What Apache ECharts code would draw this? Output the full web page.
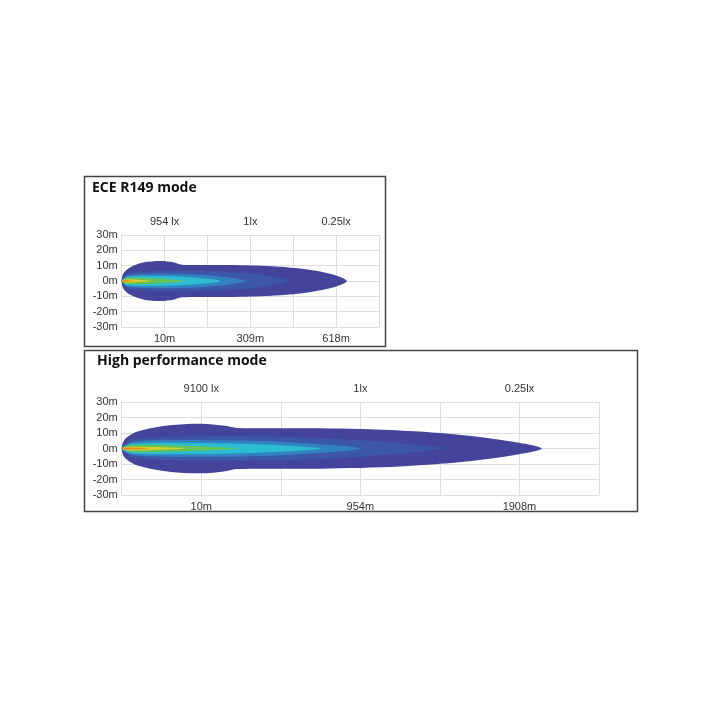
<!DOCTYPE html>
<html>
<head>
<meta charset="utf-8">
<script src="https://cdn.jsdelivr.net/npm/echarts@6/dist/echarts.min.js"></script>
<style>body{margin:0;background:#fff}#c{width:720px;height:720px}</style>
</head>
<body>
<div id="c"></div>
<script>
	// tick labels
	var distLabelsA = ['', '10m', '', '309m', '', '618m', '']
	var luxLabelsA = ['', '954 lx', '', '1lx', '', '0.25lx', '']
	var distLabelsB = ['', '10m', '', '954m', '', '1908m', '']
	var luxLabelsB = ['', '9100 lx', '', '1lx', '', '0.25lx', '']

	// isolux contour colours, outer to inner
	var contourColors = ['#43449a', '#3c56a8', '#3282c2', '#2dbdd2', '#66c157', '#d8d22c', '#f0801f']

	// upper half of each contour: [distance column, metres]
	var contoursA = [
		[[0,0],[0.04,5],[0.2,9],[0.5,12],[0.9,13],[1.2,12.2],[1.4,10.6],[2.5,10.4],[3.5,9.6],[4.3,7.6],[4.9,4.4],[5.25,0]],
		[[0,0],[0.15,5],[1,6.6],[2.4,6],[3.2,4.2],[3.9,0]],
		[[0,0],[0.15,3.8],[1,4.6],[2,3.8],[2.9,0]],
		[[0,0],[0.15,2.8],[0.9,3.2],[1.7,2.3],[2.3,0]],
		[[0,0],[0.12,2],[0.7,1.8],[1.45,0]],
		[[0,0],[0.08,1],[0.35,0.8],[0.7,0]],
		[[0,0],[0.05,0.5],[0.3,0]]
	]
	var contoursB = [
		[[0,0],[0.04,6],[0.2,11],[0.6,15],[1,16],[1.3,14.6],[1.45,13.2],[2.5,13],[3.5,11.6],[4.3,8.6],[4.9,4.5],[5.28,0]],
		[[0,0],[0.15,6],[1,7.8],[2.4,7],[3.2,4.6],[4,0]],
		[[0,0],[0.15,4.4],[1,5.4],[2,4.4],[3,0]],
		[[0,0],[0.15,3.2],[1,3.6],[1.8,2.6],[2.5,0]],
		[[0,0],[0.12,2.2],[0.7,2],[1.45,0]],
		[[0,0],[0.08,1.1],[0.4,0.9],[0.8,0]],
		[[0,0],[0.05,0.6],[0.35,0]]
	]

	function contourSeries(contours, gridIndex){
		return contours.map(function(c, k){
			var upper = c
			var lower = c.slice(1, -1).reverse().map(function(p){ return [p[0], -p[1]] })
			var pts = upper.concat(lower)
			return {
				type: 'custom',
				xAxisIndex: gridIndex * 2,
				yAxisIndex: gridIndex,
				z: 2 + k,
				silent: true,
				data: pts,
				renderItem: function(params, api){
					if (params.dataIndex !== 0) return
					return {
						type: 'polygon',
						shape: { points: pts.map(function(p){ return api.coord(p) }), smooth: 0.3 },
						style: { fill: contourColors[k] }
					}
				}
			}
		})
	}

	function xAxes(gridIndex, bottomLabels, topLabels){
		var base = {
			type: 'value', gridIndex: gridIndex, min: 0, max: 6, interval: 1,
			axisTick: { show: false },
			axisLine: { show: true, lineStyle: { color: '#ddd' } }
		}
		return [
			Object.assign({}, base, {
				position: 'bottom',
				splitLine: { show: true, lineStyle: { color: '#ddd' } },
				axisLabel: { color: '#333', fontSize: 11, margin: 6, formatter: function(v){ return bottomLabels[v] } }
			}),
			Object.assign({}, base, {
				position: 'top',
				splitLine: { show: false },
				axisLabel: { color: '#333', fontSize: 11, margin: 8, formatter: function(v){ return topLabels[v] } }
			})
		]
	}

	function yAxis(gridIndex){
		return {
			type: 'value', gridIndex: gridIndex, min: -30, max: 30, interval: 10,
			axisTick: { show: false },
			axisLine: { show: true, lineStyle: { color: '#ddd' } },
			splitLine: { lineStyle: { color: '#ddd' } },
			axisLabel: { color: '#333', fontSize: 11, margin: 4, formatter: function(v){ return v + 'm' } }
		}
	}

	var chart = echarts.init(document.getElementById('c'))
	chart.setOption({
		animation: false,
		textStyle: { fontFamily: 'Liberation Sans, Arial, sans-serif' },
		graphic: [
			{ type: 'rect', shape: { x: 84.5, y: 176.5, width: 301, height: 170 }, style: { fill: 'none', stroke: '#444', lineWidth: 1.5 } },
			{ type: 'rect', shape: { x: 84.5, y: 350.5, width: 553, height: 161 }, style: { fill: 'none', stroke: '#444', lineWidth: 1.5 } },
			{ type: 'text', left: 92, top: 181, style: { text: 'ECE R149 mode', fontSize: 14, fontWeight: 'bold', fill: '#111', fontFamily: 'Open Sans, sans-serif' } },
			{ type: 'text', left: 97, top: 354, style: { text: 'High performance mode', fontSize: 14, fontWeight: 'bold', fill: '#111', fontFamily: 'Open Sans, sans-serif' } }
		],
		grid: [
			{ left: 121.7, right: 341, top: 235, height: 92 },
			{ left: 121.7, right: 121, top: 402, height: 93 }
		],
		xAxis: xAxes(0, distLabelsA, luxLabelsA).concat(xAxes(1, distLabelsB, luxLabelsB)),
		yAxis: [yAxis(0), yAxis(1)],
		series: contourSeries(contoursA, 0).concat(contourSeries(contoursB, 1))
	})
</script>
</body>
</html>
